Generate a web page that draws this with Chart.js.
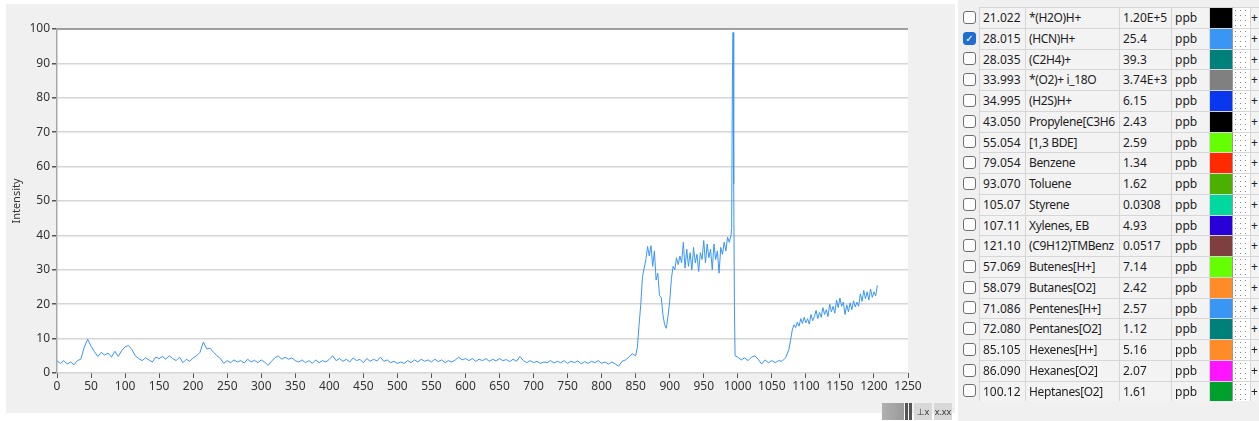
<!DOCTYPE html>
<html>
<head>
<meta charset="utf-8">
<script src="https://cdn.jsdelivr.net/npm/chart.js@4.4.1/dist/chart.umd.min.js"></script>
<style>
  body { margin: 0; background: #ffffff; font-family: "Noto Sans", "DejaVu Sans", sans-serif; }
  #panel { position: absolute; left: 6px; top: 4px; width: 949px; height: 409px; background: #f0f0f0; }
  #chartBox { position: absolute; left: 0; top: 0; width: 955px; height: 421px; }
  #tableBox { position: absolute; left: 958px; top: 0; width: 301px; height: 421px; background: #f0f0f0; }
  #grid { position: absolute; left: 2px; top: 7px; display: grid;
          grid-template-columns: 19px 46px 94px 52px 38px 23px 18px 10px;
          grid-auto-rows: 20.75px; font-size: 12px; color: #1e1e1e; }
  .c { border-top: 1px solid #d6d6d6; border-left: 1px solid #d6d6d6; background: #f3f3f3;
       padding-left: 3px; line-height: 19px; white-space: nowrap; overflow: hidden; box-sizing: border-box; }
  .c.name { letter-spacing: -0.35px; }
  .chk { display: flex; align-items: center; justify-content: center; }
  .box { width: 13px; height: 13px; border: 1px solid #707070; border-radius: 3px; background: #fff;
         box-sizing: border-box; font-size: 10px; line-height: 11px; color: #fff; text-align: center; }
  .box.on { background: #1f6fd0; border-color: #1f6fd0; }
  .sw { border-top: 1px solid #d6d6d6; border-left: 1px solid #d6d6d6; box-sizing: border-box; }
  .pat { border-top: 1px solid #d6d6d6; border-left: 1px solid #9a9a9a; box-sizing: border-box;
         background-color: #fff;
         background-image: radial-gradient(#8a8a8a 0.7px, transparent 1px);
         background-size: 5px 5px; }
  .cross { border-top: 1px solid #d6d6d6; font-size: 12px; line-height: 19px; color: #222; padding-left: 0; }
  #tools { position: absolute; left: 882px; top: 403px; height: 17px; display: flex; }
  #tools .g { width: 22px; background: linear-gradient(90deg, #b0b0b0, #9a9a9a); }
  #tools .d { width: 3px; background: #555; margin-left: 1px; }
  #tools .i { width: 18px; background: #d8d8d8; font-size: 9px; line-height: 17px; text-align: center; color: #333; margin-left: 2px; }
</style>
</head>
<body>
<div id="panel"></div>
<div id="chartBox"><canvas id="intensityChart" width="955" height="421"></canvas></div>
<div id="tools"><div class="g"></div><div class="d"></div><div class="d"></div><div class="i">⊥x</div><div class="i">x.xx</div></div>
<div id="tableBox"><div id="grid"></div></div>

<script>
// time axis (s) and HCN signal
const timeSec = [
  0, 5, 10, 15, 20, 25, 30, 35, 40, 45,
  50, 55, 60, 65, 70, 75, 80, 85, 90, 95,
  100, 105, 110, 115, 120, 125, 130, 135, 140, 145,
  150, 155, 160, 165, 170, 175, 180, 185, 190, 195,
  200, 205, 210, 215, 220, 225, 230, 235, 240, 245,
  250, 255, 260, 265, 270, 275, 280, 285, 290, 295,
  300, 305, 310, 315, 320, 325, 330, 335, 340, 345,
  350, 355, 360, 365, 370, 375, 380, 385, 390, 395,
  400, 405, 410, 415, 420, 425, 430, 435, 440, 445,
  450, 455, 460, 465, 470, 475, 480, 485, 490, 495,
  500, 505, 510, 515, 520, 525, 530, 535, 540, 545,
  550, 555, 560, 565, 570, 575, 580, 585, 590, 595,
  600, 605, 610, 615, 620, 625, 630, 635, 640, 645,
  650, 655, 660, 665, 670, 675, 680, 685, 690, 695,
  700, 705, 710, 715, 720, 725, 730, 735, 740, 745,
  750, 755, 760, 765, 770, 775, 780, 785, 790, 795,
  800, 805, 810, 815, 820, 825, 830, 835, 840, 845,
  850, 852.5, 855, 857.5, 860, 862.5, 865, 867.5, 870, 872.5,
  875, 877.5, 880, 882.5, 885, 887.5, 890, 892.5, 895, 897.5,
  900, 902.5, 905, 907.5, 910, 912.5, 915, 917.5, 920, 922.5,
  925, 927.5, 930, 932.5, 935, 937.5, 940, 942.5, 945, 947.5,
  950, 952.5, 955, 957.5, 960, 962.5, 965, 967.5, 970, 972.5,
  975, 977.5, 980, 982.5, 985, 987.5, 990,
  991, 992, 993, 994, 995, 996,
  1000, 1005, 1010, 1015, 1020, 1025, 1030, 1035, 1040, 1045,
  1050, 1055, 1060, 1065, 1070,
  1075, 1077.5, 1080, 1082.5, 1085, 1087.5, 1090, 1092.5, 1095, 1097.5,
  1100, 1102.5, 1105, 1107.5, 1110, 1112.5, 1115, 1117.5, 1120, 1122.5,
  1125, 1127.5, 1130, 1132.5, 1135, 1137.5, 1140, 1142.5, 1145, 1147.5,
  1150, 1152.5, 1155, 1157.5, 1160, 1162.5, 1165, 1167.5, 1170, 1172.5,
  1175, 1177.5, 1180, 1182.5, 1185, 1187.5, 1190, 1192.5, 1195, 1197.5,
  1200, 1202.5, 1205
];
const hcnIntensity = [
  3.5, 2.8, 3.6, 2.6, 3.2, 2.4, 3.6, 4.0, 7.5, 9.8,
  7.8, 6.2, 4.8, 6.0, 5.2, 5.8, 4.6, 6.3, 4.8, 6.5,
  7.6, 8.0, 6.8, 5.0, 4.2, 3.6, 4.4, 3.8, 3.2, 4.6,
  4.2, 4.8, 4.0, 5.0, 4.2, 3.6, 4.6, 3.0, 4.0, 3.4,
  4.4, 5.0, 6.0, 9.0, 7.0, 7.2, 6.0, 5.0, 4.2, 2.8,
  3.6, 3.0, 3.8, 3.2, 3.6, 2.9, 4.0, 3.2, 3.7, 3.0,
  3.8, 3.2, 2.2, 3.4, 4.4, 5.0, 4.0, 4.6, 4.0, 4.4,
  3.6, 3.2, 3.8, 3.0, 3.6, 2.8, 3.8, 3.0, 3.6, 3.2,
  4.0, 5.0, 3.6, 4.2, 3.4, 4.0, 3.2, 4.4, 3.6, 4.0,
  3.0, 4.2, 3.4, 4.0, 3.5, 4.6, 3.4, 3.8, 3.0, 3.4,
  2.8, 3.2, 2.8, 3.6, 3.0, 3.8, 3.2, 4.0, 3.4, 3.8,
  3.2, 4.0, 3.3, 3.8, 3.0, 3.6, 3.2, 3.8, 4.6, 3.8,
  4.2, 3.6, 4.2, 3.4, 4.0, 3.6, 4.2, 3.4, 4.0, 3.5,
  4.2, 3.6, 3.9, 3.3, 4.0, 3.4, 4.8, 3.6, 3.0, 3.6,
  3.0, 3.4, 2.8, 3.2, 3.0, 3.6, 2.9, 3.4, 3.0, 3.6,
  2.8, 3.4, 3.0, 3.5, 2.7, 3.3, 2.8, 3.4, 3.0, 3.6,
  2.8, 3.2, 2.6, 3.2, 2.6, 2.0, 3.4, 3.8, 4.6, 5.6,
  5.0, 7.5, 14.0, 20.0, 28.0, 30.5, 33.0, 36.8, 34.0, 37.0,
  31.0, 35.5, 27.0, 29.0, 22.5, 22.0, 17.0, 14.0, 13.0, 16.5,
  21.0, 27.5, 31.0, 30.0, 33.5, 31.5, 34.0, 32.0, 38.0, 30.5,
  36.0, 31.0, 35.0, 30.0, 36.5, 32.0, 34.5, 29.5, 35.0, 33.0,
  38.5, 32.0, 37.5, 33.5, 36.0, 30.0, 37.5, 33.0, 35.5, 29.0,
  36.5, 34.5, 38.0, 35.5, 39.5, 38.0, 40.0,
  42, 84, 99, 55, 20, 5,
  4.6, 3.8, 4.4, 3.6, 4.6, 5.0, 4.0, 2.6, 3.8, 3.0,
  3.6, 3.0, 3.6, 3.4, 4.4,
  6.8, 9.5, 12.5, 14.0, 13.2, 14.8, 13.6, 15.8, 14.4, 16.2,
  14.6, 15.8, 14.2, 17.0, 15.2, 16.4, 18.2, 15.8, 17.6, 16.2,
  19.0, 17.0, 18.4, 16.4, 20.0, 17.8, 19.4, 17.4, 21.2, 19.0,
  21.8, 19.4, 20.6, 17.0, 19.8, 17.8, 20.4, 18.4, 21.0, 19.2,
  20.6, 19.4, 23.0, 20.8, 24.0, 21.6, 23.6, 21.2, 24.4, 22.0,
  23.6, 22.4, 25.5
];

// legend table on the right
const masses = ["21.022", "28.015", "28.035", "33.993", "34.995", "43.050", "55.054", "79.054", "93.070", "105.07",
                "107.11", "121.10", "57.069", "58.079", "71.086", "72.080", "85.105", "86.090", "100.12"];
const compounds = ["*(H2O)H+", "(HCN)H+", "(C2H4)+", "*(O2)+ i_18O", "(H2S)H+", "Propylene[C3H6", "[1,3 BDE]", "Benzene", "Toluene", "Styrene",
                   "Xylenes, EB", "(C9H12)TMBenz", "Butenes[H+]", "Butanes[O2]", "Pentenes[H+]", "Pentanes[O2]", "Hexenes[H+]", "Hexanes[O2]", "Heptanes[O2]"];
const concentrations = ["1.20E+5", "25.4", "39.3", "3.74E+3", "6.15", "2.43", "2.59", "1.34", "1.62", "0.0308",
                        "4.93", "0.0517", "7.14", "2.42", "2.57", "1.12", "5.16", "2.07", "1.61"];
const units = "ppb";
const traceColors = ["#000000", "#3a96f5", "#00807a", "#808080", "#0a36f0", "#000000", "#66ff00", "#ff2a00", "#4cb000", "#00d8a0",
                     "#2a00d8", "#7f3f3f", "#66ff00", "#ff8c28", "#3a96f5", "#00807a", "#ff8c28", "#ff14ff", "#00a02c"];
const shownTrace = 1;

const grid = document.getElementById("grid");
masses.forEach((m, i) => {
    const on = i === shownTrace;
    grid.innerHTML += `
      <div class="chk"><div class="box${on ? " on" : ""}">${on ? "✓" : ""}</div></div>
      <div class="c">${m}</div>
      <div class="c name">${compounds[i]}</div>
      <div class="c">${concentrations[i]}</div>
      <div class="c">${units}</div>
      <div class="sw" style="background:${traceColors[i]}"></div>
      <div class="pat"></div>
      <div class="c cross">+</div>
    `;
});

const points = timeSec.map((t, i) => ({ x: t, y: hcnIntensity[i] }));

// white plot area + dark top frame
const plotBackground = {
    id: "plotBackground",
    beforeDraw(chart) {
        const { ctx, chartArea } = chart;
        ctx.save();
        ctx.fillStyle = "#ffffff";
        ctx.fillRect(chartArea.left, chartArea.top, chartArea.right - chartArea.left, chartArea.bottom - chartArea.top);
        ctx.restore();
    },
    afterDraw(chart) {
        const { ctx, chartArea } = chart;
        ctx.save();
        ctx.strokeStyle = "#8a8a8a";
        ctx.lineWidth = 1.5;
        ctx.beginPath();
        ctx.moveTo(chartArea.left, chartArea.top);
        ctx.lineTo(chartArea.right, chartArea.top);
        ctx.stroke();
        ctx.restore();
    }
};

const tickFont = { family: "'Noto Sans', 'DejaVu Sans', sans-serif", size: 12 };

new Chart(document.getElementById("intensityChart").getContext("2d"), {
    type: "line",
    data: {
        datasets: [{
            label: "(HCN)H+",
            data: points,
            borderColor: traceColors[shownTrace],
            borderWidth: 1,
            pointRadius: 0,
            tension: 0
        }]
    },
    options: {
        responsive: false,
        animation: false,
        plugins: { legend: { display: false }, tooltip: { enabled: false } },
        layout: { padding: { top: 29, right: 47, bottom: 0, left: 0 } },
        scales: {
            x: {
                type: "linear",
                min: 0,
                max: 1250,
                afterFit: s => { s.height = 48; },
                ticks: { stepSize: 50, color: "#333", font: tickFont, padding: 1, maxRotation: 0,
                         callback: v => String(v) },
                grid: { drawOnChartArea: false, tickLength: 5, tickColor: "#555" },
                border: { display: false }
            },
            y: {
                min: 0,
                max: 100,
                afterFit: s => { s.width = 57; },
                title: { display: true, text: "Intensity", color: "#333", font: { ...tickFont, size: 11 },
                         padding: { top: 10, bottom: 0 } },
                ticks: { stepSize: 10, color: "#333", font: tickFont, padding: 2 },
                grid: { color: "#d6d6d6", lineWidth: 1.5, tickLength: 5, tickColor: "#555" },
                border: { color: "#a8a8a8", width: 1.5 }
            }
        }
    },
    plugins: [plotBackground]
});
</script>
</body>
</html>
